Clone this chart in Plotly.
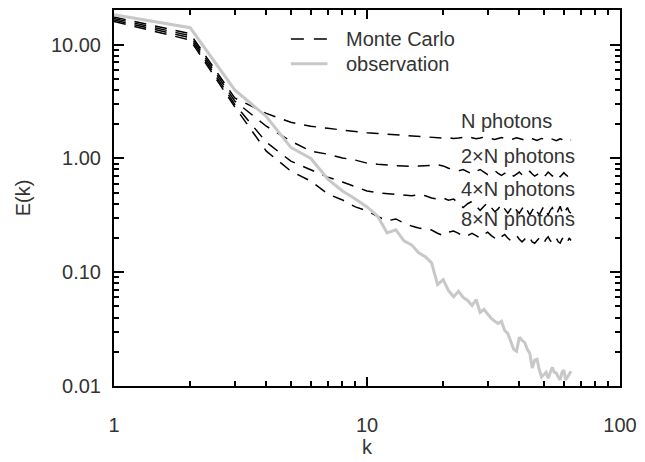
import plotly.graph_objects as go

k = list(range(1, 65))

obs = [18.3, 14.1, 4.0, 2.34, 1.25, 1.0, 0.659, 0.518, 0.441, 0.375,
       0.313, 0.222, 0.236, 0.189, 0.174, 0.148, 0.137, 0.121, 0.078, 0.086,
       0.069, 0.061, 0.068, 0.060, 0.0565, 0.051, 0.0576, 0.0443, 0.0471, 0.0426,
       0.0393, 0.0370, 0.0355, 0.0370, 0.0308, 0.0290, 0.0247, 0.0210, 0.0202, 0.0268,
       0.0252, 0.0242, 0.0210, 0.0194, 0.0144, 0.0169, 0.0172, 0.0138, 0.0120, 0.0127,
       0.0132, 0.0117, 0.0132, 0.0146, 0.0132, 0.0130, 0.0120, 0.0113, 0.0132, 0.0138,
       0.0113, 0.0120, 0.0127, 0.0135]

mc_n = [17.5, 12.5, 3.4, 2.49, 2.08, 1.92, 1.84, 1.77, 1.72, 1.68,
        1.66, 1.64, 1.62, 1.60, 1.57, 1.56, 1.54, 1.53, 1.52, 1.51,
        1.52, 1.50, 1.51, 1.53, 1.55, 1.52, 1.49, 1.51, 1.54, 1.52,
        1.49, 1.47, 1.50, 1.53, 1.50, 1.48, 1.46, 1.49, 1.52, 1.50,
        1.47, 1.45, 1.48, 1.51, 1.49, 1.46, 1.44, 1.47, 1.50, 1.48,
        1.45, 1.47, 1.50, 1.48, 1.45, 1.43, 1.46, 1.49, 1.47, 1.44,
        1.46, 1.49, 1.47, 1.45]

mc_2n = [17.0, 12.0, 3.2, 1.92, 1.42, 1.16, 1.09, 1.01, 0.967, 0.91,
         0.89, 0.873, 0.865, 0.857, 0.85, 0.857, 0.86, 0.87, 0.88, 0.86,
         0.82, 0.80, 0.78, 0.80, 0.76, 0.73, 0.77, 0.80, 0.76, 0.72,
         0.75, 0.78, 0.74, 0.71, 0.74, 0.77, 0.73, 0.70, 0.73, 0.76,
         0.72, 0.70, 0.74, 0.77, 0.73, 0.70, 0.72, 0.75, 0.72, 0.69,
         0.72, 0.76, 0.73, 0.70, 0.72, 0.75, 0.71, 0.69, 0.72, 0.75,
         0.72, 0.70, 0.73, 0.71]

mc_4n = [16.5, 11.5, 3.0, 1.39, 0.947, 0.791, 0.686, 0.621, 0.561, 0.518,
         0.50, 0.49, 0.48, 0.475, 0.47, 0.48, 0.47, 0.45, 0.44, 0.45,
         0.43, 0.44, 0.40, 0.37, 0.40, 0.42, 0.38, 0.35, 0.38, 0.41,
         0.37, 0.34, 0.36, 0.40, 0.36, 0.33, 0.36, 0.39, 0.35, 0.33,
         0.36, 0.39, 0.35, 0.32, 0.35, 0.38, 0.34, 0.32, 0.35, 0.38,
         0.34, 0.32, 0.35, 0.37, 0.34, 0.32, 0.35, 0.38, 0.34, 0.32,
         0.35, 0.37, 0.34, 0.33]

mc_8n = [16.0, 11.0, 2.85, 1.16, 0.774, 0.632, 0.487, 0.432, 0.375, 0.346,
         0.31, 0.283, 0.294, 0.27, 0.255, 0.245, 0.24, 0.235, 0.22, 0.21,
         0.225, 0.23, 0.22, 0.205, 0.21, 0.22, 0.21, 0.20, 0.215, 0.225,
         0.21, 0.20, 0.19, 0.205, 0.215, 0.20, 0.19, 0.20, 0.21, 0.195,
         0.185, 0.195, 0.21, 0.20, 0.185, 0.18, 0.19, 0.20, 0.19, 0.18,
         0.195, 0.205, 0.19, 0.18, 0.19, 0.20, 0.185, 0.18, 0.195, 0.205,
         0.19, 0.185, 0.20, 0.19]

mc_series = [mc_n, mc_2n, mc_4n, mc_8n]
curve_labels = ["N photons", "2×N photons", "4×N photons", "8×N photons"]
label_y = [0.704, 0.611, 0.524, 0.444]

legend_names = ["Monte Carlo", "observation"]

x_major = [1, 10, 100]
x_major_text = ["1", "10", "100"]
y_major = [0.01, 0.1, 1, 10]
y_major_text = ["0.01", "0.10", "1.00", "10.00"]

FONT = "Liberation Sans, Arial, Helvetica, sans-serif"
TXT = "#333333"
DASH = "12px,9px"
GRAY = "#c8c8c8"

fig = go.Figure()
for i, s in enumerate(mc_series):
    fig.add_trace(go.Scatter(
        x=k, y=s, mode="lines",
        line=dict(color="black", width=1.5, dash=DASH),
        name=legend_names[0], showlegend=False, hoverinfo="skip"))
fig.add_trace(go.Scatter(
    x=k, y=obs, mode="lines", xaxis="x2", yaxis="y2",
    line=dict(color=GRAY, width=3),
    name=legend_names[1], showlegend=False))

for lab, yy in zip(curve_labels, label_y):
    fig.add_annotation(x=0.682, y=yy, xref="paper", yref="paper",
                       text=lab, showarrow=False, xanchor="left", yanchor="middle",
                       font=dict(size=20, color=TXT, family=FONT))

leg_y = [0.923, 0.857]
leg_styles = [dict(color="black", width=1.5, dash="13px,10px"),
              dict(color=GRAY, width=3)]
for name, yy, st in zip(legend_names, leg_y, leg_styles):
    fig.add_shape(type="line", xref="paper", yref="paper",
                  x0=0.3496, x1=0.4219, y0=yy, y1=yy, line=st)
    fig.add_annotation(x=0.455, y=yy, xref="paper", yref="paper",
                       text=name, showarrow=False, xanchor="left", yanchor="middle",
                       font=dict(size=20, color=TXT, family=FONT))

xr = [0, 2]
yr = [-2, 1.305]

fig.update_layout(
    width=645, height=462,
    margin=dict(l=114, r=19, t=8, b=76),
    paper_bgcolor="white", plot_bgcolor="white",
    font=dict(family=FONT, size=20, color=TXT),
    showlegend=False,
    xaxis=dict(type="log", range=xr, showgrid=False, zeroline=False,
               showline=True, linecolor="black", linewidth=2, mirror="allticks",
               tickmode="linear", tick0=0, dtick=1,
               ticks="inside", ticklen=9, tickwidth=2, tickcolor="#000000",
               showticklabels=False, layer="above traces",
               minor=dict(ticks="inside", dtick="D1", ticklen=5, tickwidth=2,
                          tickcolor="#000000", showgrid=False)),
    yaxis=dict(type="log", range=yr, showgrid=False, zeroline=False,
               showline=True, linecolor="black", linewidth=2, mirror="allticks",
               tickmode="linear", tick0=0, dtick=1,
               ticks="inside", ticklen=10, tickwidth=2, tickcolor="#000000",
               showticklabels=False, layer="above traces",
               minor=dict(ticks="inside", dtick="D1", ticklen=5, tickwidth=2,
                          tickcolor="#000000", showgrid=False)),
    xaxis2=dict(type="log", range=xr, overlaying="x", side="bottom", anchor="y2",
                showgrid=False, zeroline=False, showline=False,
                ticks="outside", ticklen=21, tickcolor="rgba(0,0,0,0)",
                tickmode="array", tickvals=x_major, ticktext=x_major_text,
                tickfont=dict(size=20, color=TXT),
                title=dict(text="k", standoff=4, font=dict(size=20, color=TXT))),
    yaxis2=dict(type="log", range=yr, overlaying="y", side="left", anchor="x2",
                showgrid=False, zeroline=False, showline=False,
                ticks="outside", ticklen=8, tickcolor="rgba(0,0,0,0)",
                tickmode="array", tickvals=y_major, ticktext=y_major_text,
                tickfont=dict(size=20, color=TXT),
                title=dict(text="E(k)", standoff=14, font=dict(size=20, color=TXT))),
)

fig.write_html("out.html")
